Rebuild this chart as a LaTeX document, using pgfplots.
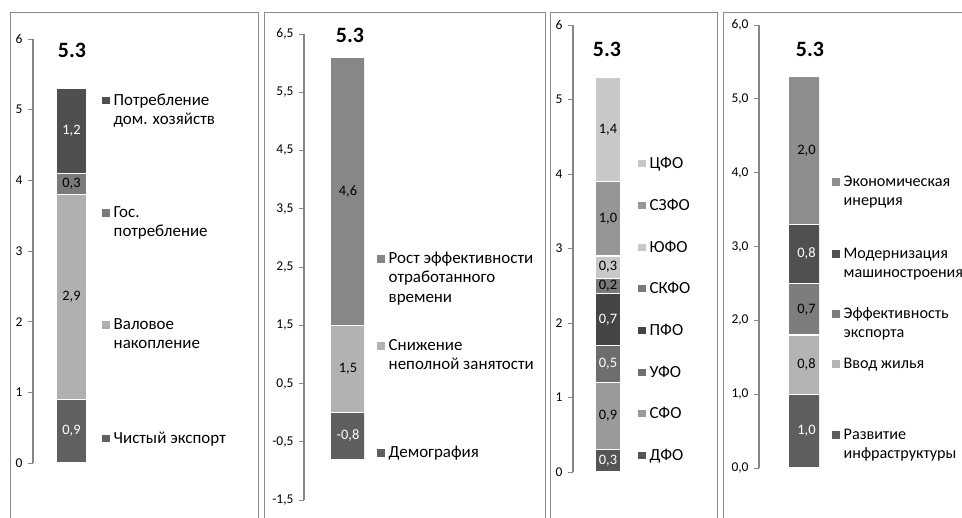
\documentclass[border=0pt]{standalone}
\usepackage{pgfplots}
\pgfplotsset{compat=1.18}
\usepackage{fontspec}
\setmainfont{Carlito}

\definecolor{axgray}{HTML}{868686}
\definecolor{framegray}{HTML}{8C8C8C}
% panel 1
\definecolor{pa}{HTML}{606060}
\definecolor{pb}{HTML}{B0B0B0}
\definecolor{pc}{HTML}{7A7A7A}
\definecolor{pd}{HTML}{4F4F4F}
% panel 2
\definecolor{qa}{HTML}{5F5F5F}
\definecolor{qb}{HTML}{B2B2B2}
\definecolor{qc}{HTML}{878787}
% panel 3
\definecolor{ra}{HTML}{555555}
\definecolor{rb}{HTML}{9A9A9A}
\definecolor{rc}{HTML}{6E6E6E}
\definecolor{rd}{HTML}{444444}
\definecolor{re}{HTML}{7A7A7A}
\definecolor{rf}{HTML}{C8C8C8}
\definecolor{rg}{HTML}{969696}
\definecolor{rh}{HTML}{C8C8C8}
% panel 4
\definecolor{sa}{HTML}{5E5E5E}
\definecolor{sb}{HTML}{B4B4B4}
\definecolor{sc}{HTML}{7D7D7D}
\definecolor{sd}{HTML}{505050}
\definecolor{se}{HTML}{8E8E8E}

\newcommand{\legfont}{\fontsize{17}{19.5}\selectfont}
\newcommand{\lblfont}{\fontsize{14.5}{17}\selectfont}
\newcommand{\ttlfont}{\fontsize{22}{26}\selectfont\bfseries}
\newcommand{\leg}[4]{\node[anchor=base west, inner sep=0pt, font=\legfont] at (#1,#2)
  {\textcolor{#3}{\rule[1bp]{7.5bp}{7.5bp}}\hspace{4bp}\begin{tabular}[t]{@{}l@{}}#4\end{tabular}};}

\pgfplotsset{
  panel/.style={
    scale only axis, anchor=south west,
    ybar stacked, enlargelimits=false,
    axis x line=none, axis y line*=left,
    y axis line style={color=axgray, line width=1.2bp},
    ytick style={color=axgray, line width=1bp},
    tick align=outside, major tick length=5bp,
    yticklabel style={font=\fontsize{13.5}{16}\selectfont, text=black, xshift=-2bp},
    /pgf/number format/assume math mode=true,
    point meta=explicit symbolic,
  },
  % stacked value labels land in the middle of their segment
  seg/.style 2 args={fill=#1, draw=white, line width=1.3bp,
    nodes near coords,
    every node near coord/.append style={anchor=center, text=#2, font=\lblfont}},
}

\begin{document}
\begin{tikzpicture}
\path[use as bounding box] (0,0) rectangle (962bp,-518bp);
\begin{scope}[x=1bp,y=-1bp]
  \draw[framegray, line width=1bp] (10,12.7) rectangle (258,540);
  \draw[framegray, line width=1bp] (264,12.7) rectangle (545,540);
  \draw[framegray, line width=1bp] (550,12.7) rectangle (717,540);
  \draw[framegray, line width=1bp] (723,12.7) rectangle (990,540);
  \node[font=\ttlfont] at (72,50) {5.3};
  \node[font=\ttlfont] at (350,35) {5.3};
  \node[font=\ttlfont] at (607,49) {5.3};
  \node[font=\ttlfont] at (810,49) {5.3};
  % legends panel 1
  \leg{102}{105}{pd}{Потребление\\дом. хозяйств}
  \leg{102}{217.5}{pc}{Гос.\\потребление}
  \leg{102}{329.5}{pb}{Валовое\\накопление}
  \leg{102}{443}{pa}{Чистый экспорт}
  % legends panel 2
  \leg{377}{263.5}{qc}{Рост эффективности\\отработанного\\времени}
  \leg{377}{350.5}{qb}{Снижение\\неполной занятости}
  \leg{377}{457.5}{qa}{Демография}
  % legends panel 3
  \leg{638}{168}{rh}{ЦФО}
  \leg{638}{210}{rg}{СЗФО}
  \leg{638}{252}{rf}{ЮФО}
  \leg{638}{293}{re}{СКФО}
  \leg{638}{335}{rd}{ПФО}
  \leg{638}{377}{rc}{УФО}
  \leg{638}{418}{rb}{СФО}
  \leg{638}{460}{ra}{ДФО}
  % legends panel 4, a little smaller so the longest word stays on the page
  \renewcommand{\legfont}{\fontsize{16.2}{19.5}\selectfont}
  \leg{832}{186.5}{se}{Экономическая\\инерция}
  \leg{832}{258.5}{sd}{Модернизация\\машиностроения}
  \leg{832}{318.5}{sc}{Эффективность\\экспорта}
  \leg{832}{368.5}{sb}{Ввод жилья}
  \leg{832}{439.5}{sa}{Развитие\\инфраструктуры}
\end{scope}

% panel 1
\begin{axis}[panel, at={(33bp,-463bp)}, width=60bp, height=424bp,
  xmin=0, xmax=60, ymin=0, ymax=6, ytick={0,1,...,6}, bar width=31bp]
\addplot[seg={pa}{white}] coordinates {(38.5,0.9) [{0,9}]};
\addplot[seg={pb}{black}] coordinates {(38.5,2.9) [{2,9}]};
\addplot[seg={pc}{black}] coordinates {(38.5,0.3) [{0,3}]};
\addplot[seg={pd}{white}] coordinates {(38.5,1.2) [{1,2}]};
\end{axis}

% panel 2
\begin{axis}[panel, at={(304bp,-500bp)}, width=60bp, height=466bp,
  xmin=0, xmax=60, ymin=-1.5, ymax=6.5, ytick={-1.5,-0.5,...,6.5},
  yticklabel style={/pgf/number format/.cd, fixed, fixed zerofill, precision=1, use comma},
  bar width=35bp]
\addplot[seg={qa}{white}] coordinates {(44,-0.8) [{-0,8}]};
\addplot[seg={qb}{black}] coordinates {(44,1.5) [{1,5}]};
\addplot[seg={qc}{black}] coordinates {(44,4.6) [{4,6}]};
\end{axis}

% panel 3
\begin{axis}[panel, at={(573bp,-472bp)}, width=60bp, height=447bp,
  xmin=0, xmax=60, ymin=0, ymax=6, ytick={0,1,...,6}, bar width=26bp]
\addplot[seg={ra}{white}] coordinates {(35,0.3) [{0,3}]};
\addplot[seg={rb}{black}] coordinates {(35,0.9) [{0,9}]};
\addplot[seg={rc}{white}] coordinates {(35,0.5) [{0,5}]};
\addplot[seg={rd}{white}] coordinates {(35,0.7) [{0,7}]};
\addplot[seg={re}{black}] coordinates {(35,0.2) [{0,2}]};
\addplot[seg={rf}{black}] coordinates {(35,0.3) [{0,3}]};
\addplot[seg={rg}{black}] coordinates {(35,1.0) [{1,0}]};
\addplot[seg={rh}{black}] coordinates {(35,1.4) [{1,4}]};
\end{axis}

% panel 4
\begin{axis}[panel, at={(759bp,-468bp)}, width=60bp, height=443bp,
  xmin=0, xmax=60, ymin=0, ymax=6, ytick={0,1,...,6},
  yticklabel style={/pgf/number format/.cd, fixed, fixed zerofill, precision=1, use comma},
  bar width=37bp]
\addplot[seg={sa}{white}] coordinates {(47.5,1.0) [{1,0}]};
\addplot[seg={sb}{black}] coordinates {(47.5,0.8) [{0,8}]};
\addplot[seg={sc}{black}] coordinates {(47.5,0.7) [{0,7}]};
\addplot[seg={sd}{white}] coordinates {(47.5,0.8) [{0,8}]};
\addplot[seg={se}{black}] coordinates {(47.5,2.0) [{2,0}]};
\end{axis}
\end{tikzpicture}
\end{document}
